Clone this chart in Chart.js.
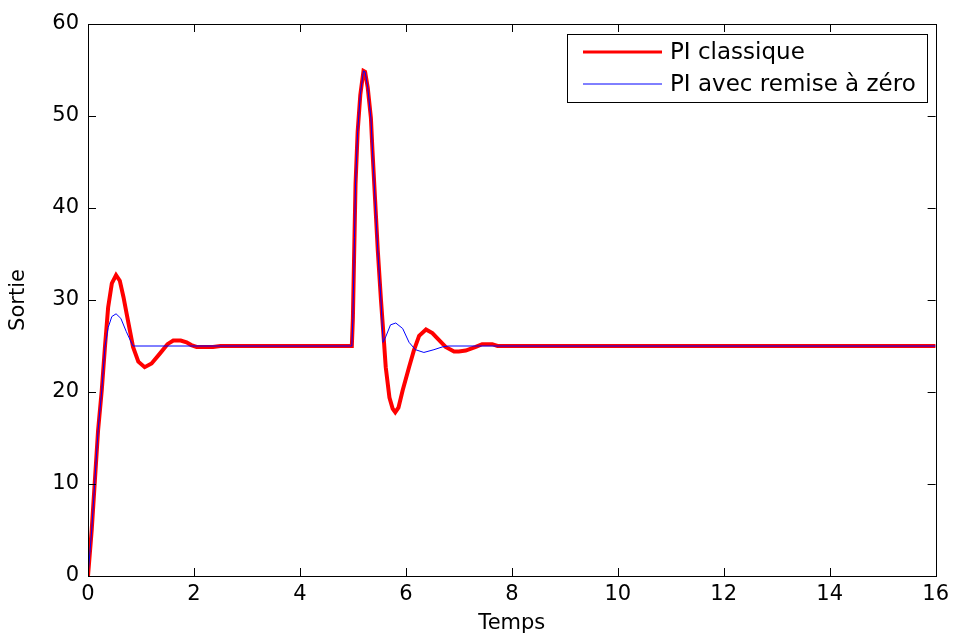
<!DOCTYPE html>
<html>
<head>
<meta charset="utf-8">
<script src="https://cdn.jsdelivr.net/npm/chart.js@4.4.1/dist/chart.umd.min.js"></script>
<style>
  html, body { margin: 0; padding: 0; background: #fff; }
  #wrap { width: 955px; height: 634px; }
</style>
</head>
<body>
<div id="wrap"><canvas id="c" width="955" height="634"></canvas></div>
<script>
// ---- Data ----
const seriesNames = ["PI classique", "PI avec remise à zéro"];
const xTickValues = [0, 2, 4, 6, 8, 10, 12, 14, 16];
const yTickValues = [0, 10, 20, 30, 40, 50, 60];
const xTitle = "Temps";
const yTitle = "Sortie";

const tClassique = [0, 0.07, 0.13, 0.19, 0.26, 0.32, 0.38, 0.45, 0.53, 0.6, 0.67, 0.73, 0.8, 0.85, 0.95, 1.07, 1.2, 1.36, 1.5, 1.61, 1.75, 1.86, 1.95, 2.05, 2.36, 2.5, 4.98, 5.0, 5.03, 5.05, 5.09, 5.14, 5.2, 5.23, 5.28, 5.34, 5.37, 5.42, 5.47, 5.53, 5.59, 5.62, 5.69, 5.75, 5.8, 5.86, 5.94, 6.06, 6.15, 6.25, 6.38, 6.5, 6.6, 6.75, 6.91, 7.0, 7.13, 7.32, 7.44, 7.63, 7.73, 16];
const yClassique = [0, 5, 10.4, 15.8, 20.2, 24.9, 29.2, 31.8, 32.7, 32.1, 30.3, 28.5, 26.4, 24.9, 23.3, 22.7, 23.1, 24.2, 25.2, 25.6, 25.6, 25.4, 25.1, 24.9, 24.9, 25, 25, 28, 36.8, 42.6, 48.3, 52.3, 54.9, 54.8, 53.1, 49.8, 46.2, 40.8, 35.4, 30, 25.2, 22.7, 19.4, 18.2, 17.8, 18.3, 20.2, 22.7, 24.5, 26.1, 26.8, 26.4, 25.8, 24.9, 24.4, 24.4, 24.5, 24.9, 25.2, 25.2, 25, 25];

const tRemise = [0, 0.07, 0.13, 0.19, 0.26, 0.32, 0.38, 0.45, 0.53, 0.62, 0.72, 0.8, 0.85, 4.98, 5.0, 5.03, 5.05, 5.09, 5.14, 5.2, 5.23, 5.28, 5.34, 5.37, 5.42, 5.47, 5.53, 5.57, 5.62, 5.71, 5.81, 5.94, 6.06, 6.18, 6.34, 6.53, 6.69, 6.8, 16];
const yRemise = [0, 5, 10.4, 15.8, 20.2, 24.9, 27.0, 28.2, 28.5, 28.0, 26.6, 25.6, 25, 25, 28, 36.8, 42.6, 48.3, 52.3, 54.9, 54.8, 53.1, 49.8, 46.2, 40.8, 35.4, 30, 25.4, 26, 27.3, 27.5, 26.9, 25.4, 24.6, 24.3, 24.6, 24.9, 25, 25];

const toPoints = (ts, ys) => ts.map((t, i) => ({ x: t, y: ys[i] }));

const FONT = "'DejaVu Sans', 'Liberation Sans', Arial, sans-serif";

// Frame, inward ticks and legend box (MATLAB style)
const matlabFrame = {
  id: 'matlabFrame',
  afterDatasetsDraw(chart) {
    const { ctx, chartArea: a, scales } = chart;
    const xs = scales.x, ys = scales.y;
    const tl = 8;
    ctx.save();
    ctx.strokeStyle = '#000';
    ctx.lineWidth = 1;
    ctx.beginPath();
    xTickValues.forEach(v => {
      const px = Math.round(xs.getPixelForValue(v)) + 0.5;
      ctx.moveTo(px, a.bottom); ctx.lineTo(px, a.bottom - tl);
      ctx.moveTo(px, a.top); ctx.lineTo(px, a.top + tl);
    });
    yTickValues.forEach(v => {
      const py = Math.round(ys.getPixelForValue(v)) + 0.5;
      ctx.moveTo(a.left, py); ctx.lineTo(a.left + tl, py);
      ctx.moveTo(a.right, py); ctx.lineTo(a.right - tl, py);
    });
    ctx.stroke();
    ctx.strokeRect(Math.round(a.left) + 0.5, Math.round(a.top) + 0.5,
                   Math.round(a.right - a.left), Math.round(a.bottom - a.top));

    // legend box
    const lx = a.left + 479, ly = a.top + 10, lw = 360, lh = 68;
    ctx.fillStyle = '#fff';
    ctx.fillRect(lx, ly, lw, lh);
    ctx.strokeRect(lx + 0.5, ly + 0.5, lw, lh);
    const rows = [
      { y: ly + 18, color: '#ff0000', w: 3, label: seriesNames[0] },
      { y: ly + 50, color: '#0000ff', w: 1, label: seriesNames[1] }
    ];
    ctx.font = '23px ' + FONT;
    ctx.textBaseline = 'middle';
    ctx.textAlign = 'left';
    rows.forEach(r => {
      ctx.beginPath();
      ctx.strokeStyle = r.color;
      ctx.lineWidth = r.w;
      ctx.moveTo(lx + 16, r.y); ctx.lineTo(lx + 95, r.y);
      ctx.stroke();
      ctx.fillStyle = '#000';
      ctx.fillText(r.label, lx + 103, r.y + 1);
    });
    ctx.restore();
  }
};

new Chart(document.getElementById('c'), {
  type: 'line',
  data: {
    datasets: [
      {
        label: seriesNames[0],
        data: toPoints(tClassique, yClassique),
        borderColor: '#ff0000',
        borderWidth: 4,
        pointRadius: 0,
        tension: 0,
        fill: false,
        order: 2
      },
      {
        label: seriesNames[1],
        data: toPoints(tRemise, yRemise),
        borderColor: '#0000ff',
        borderWidth: 1,
        pointRadius: 0,
        tension: 0,
        fill: false,
        order: 1
      }
    ]
  },
  options: {
    responsive: false,
    animation: false,
    events: [],
    layout: { padding: { left: 0, top: 24, right: 17, bottom: 0 } },
    plugins: { legend: { display: false }, tooltip: { enabled: false } },
    scales: {
      x: {
        type: 'linear',
        min: 0, max: 16,
        afterFit(s) { s.height = 58; },
        afterBuildTicks(s) { s.ticks = xTickValues.map(v => ({ value: v })); },
        grid: { display: false, drawTicks: false },
        border: { display: false },
        ticks: { color: '#000', padding: 6, maxRotation: 0, autoSkip: false, font: { family: FONT, size: 21 } },
        title: { display: true, text: xTitle, color: '#000', padding: 0, font: { family: FONT, size: 21, lineHeight: 1 } }
      },
      y: {
        type: 'linear',
        min: 0, max: 60,
        afterFit(s) { s.width = 88; },
        afterBuildTicks(s) { s.ticks = yTickValues.map(v => ({ value: v })); },
        grid: { display: false, drawTicks: false },
        border: { display: false },
        ticks: { color: '#000', padding: 9, autoSkip: false, font: { family: FONT, size: 21 } },
        title: { display: true, text: yTitle, color: '#000', padding: { top: 8, bottom: 0 }, font: { family: FONT, size: 21, lineHeight: 1 } }
      }
    }
  },
  plugins: [matlabFrame]
});
</script>
</body>
</html>
